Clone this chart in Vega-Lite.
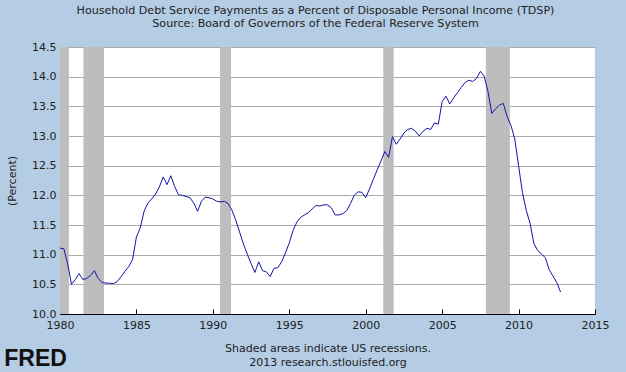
{
  "$schema": "https://vega.github.io/schema/vega-lite/v6.json",
  "width": 535,
  "height": 267,
  "autosize": "none",
  "padding": {"left": 60, "top": 47, "right": 31, "bottom": 58},
  "background": "#b4cce4",
  "title": {
    "text": "Household Debt Service Payments as a Percent of Disposable Personal Income (TDSP)",
    "subtitle": "Source: Board of Governors of the Federal Reserve System",
    "anchor": "middle",
    "frame": "group",
    "dx": -12,
    "font": "DejaVu Sans",
    "subtitleFont": "DejaVu Sans",
    "fontSize": 11.1,
    "subtitleFontSize": 11.1,
    "fontWeight": "normal",
    "color": "#222222",
    "subtitleColor": "#222222",
    "offset": 12,
    "subtitlePadding": 2
  },
  "config": {
    "view": {"fill": "white", "stroke": null},
    "font": "DejaVu Sans"
  },
  "layer": [
    {
      "data": {"values": [
        {"s": 1980.0, "e": 1980.58},
        {"s": 1981.53, "e": 1982.88},
        {"s": 1990.47, "e": 1991.19},
        {"s": 2001.15, "e": 2001.83},
        {"s": 2007.86, "e": 2009.43}
      ]},
      "mark": {"type": "rect", "color": "#bdbdbd"},
      "encoding": {
        "x": {"field": "s", "type": "quantitative", "scale": {"domain": [1980, 2015], "nice": false, "zero": false}},
        "x2": {"field": "e"}
      }
    },
    {
      "data": {"values": [
        {"t": 1980.00, "v": 11.11}, {"t": 1980.25, "v": 11.10}, {"t": 1980.50, "v": 10.85}, {"t": 1980.75, "v": 10.50},
        {"t": 1981.00, "v": 10.58}, {"t": 1981.25, "v": 10.68}, {"t": 1981.50, "v": 10.58}, {"t": 1981.75, "v": 10.60},
        {"t": 1982.00, "v": 10.65}, {"t": 1982.25, "v": 10.73}, {"t": 1982.50, "v": 10.60}, {"t": 1982.75, "v": 10.53},
        {"t": 1983.00, "v": 10.52}, {"t": 1983.25, "v": 10.52}, {"t": 1983.50, "v": 10.51}, {"t": 1983.75, "v": 10.55},
        {"t": 1984.00, "v": 10.63}, {"t": 1984.25, "v": 10.72}, {"t": 1984.50, "v": 10.80}, {"t": 1984.75, "v": 10.92},
        {"t": 1985.00, "v": 11.30}, {"t": 1985.25, "v": 11.45}, {"t": 1985.50, "v": 11.73}, {"t": 1985.75, "v": 11.87},
        {"t": 1986.00, "v": 11.94}, {"t": 1986.25, "v": 12.02}, {"t": 1986.50, "v": 12.14}, {"t": 1986.75, "v": 12.31},
        {"t": 1987.00, "v": 12.18}, {"t": 1987.25, "v": 12.33}, {"t": 1987.50, "v": 12.15}, {"t": 1987.75, "v": 12.01},
        {"t": 1988.00, "v": 12.00}, {"t": 1988.25, "v": 11.98}, {"t": 1988.50, "v": 11.96}, {"t": 1988.75, "v": 11.87},
        {"t": 1989.00, "v": 11.73}, {"t": 1989.25, "v": 11.90}, {"t": 1989.50, "v": 11.97}, {"t": 1989.75, "v": 11.96},
        {"t": 1990.00, "v": 11.94}, {"t": 1990.25, "v": 11.90}, {"t": 1990.50, "v": 11.89}, {"t": 1990.75, "v": 11.90},
        {"t": 1991.00, "v": 11.86}, {"t": 1991.25, "v": 11.75}, {"t": 1991.50, "v": 11.58}, {"t": 1991.75, "v": 11.38},
        {"t": 1992.00, "v": 11.18}, {"t": 1992.25, "v": 11.01}, {"t": 1992.50, "v": 10.85}, {"t": 1992.75, "v": 10.70},
        {"t": 1993.00, "v": 10.88}, {"t": 1993.25, "v": 10.73}, {"t": 1993.50, "v": 10.71}, {"t": 1993.75, "v": 10.63},
        {"t": 1994.00, "v": 10.77}, {"t": 1994.25, "v": 10.78}, {"t": 1994.50, "v": 10.88}, {"t": 1994.75, "v": 11.03},
        {"t": 1995.00, "v": 11.20}, {"t": 1995.25, "v": 11.41}, {"t": 1995.50, "v": 11.55}, {"t": 1995.75, "v": 11.63},
        {"t": 1996.00, "v": 11.67}, {"t": 1996.25, "v": 11.71}, {"t": 1996.50, "v": 11.77}, {"t": 1996.75, "v": 11.83},
        {"t": 1997.00, "v": 11.82}, {"t": 1997.25, "v": 11.84}, {"t": 1997.50, "v": 11.84}, {"t": 1997.75, "v": 11.79},
        {"t": 1998.00, "v": 11.67}, {"t": 1998.25, "v": 11.67}, {"t": 1998.50, "v": 11.69}, {"t": 1998.75, "v": 11.74},
        {"t": 1999.00, "v": 11.86}, {"t": 1999.25, "v": 12.00}, {"t": 1999.50, "v": 12.06}, {"t": 1999.75, "v": 12.05},
        {"t": 2000.00, "v": 11.96}, {"t": 2000.25, "v": 12.11}, {"t": 2000.50, "v": 12.27}, {"t": 2000.75, "v": 12.43},
        {"t": 2001.00, "v": 12.58}, {"t": 2001.25, "v": 12.74}, {"t": 2001.50, "v": 12.64}, {"t": 2001.75, "v": 12.99},
        {"t": 2002.00, "v": 12.86}, {"t": 2002.25, "v": 12.95}, {"t": 2002.50, "v": 13.05}, {"t": 2002.75, "v": 13.11},
        {"t": 2003.00, "v": 13.13}, {"t": 2003.25, "v": 13.08}, {"t": 2003.50, "v": 13.00}, {"t": 2003.75, "v": 13.08},
        {"t": 2004.00, "v": 13.13}, {"t": 2004.25, "v": 13.11}, {"t": 2004.50, "v": 13.22}, {"t": 2004.75, "v": 13.20},
        {"t": 2005.00, "v": 13.58}, {"t": 2005.25, "v": 13.67}, {"t": 2005.50, "v": 13.54}, {"t": 2005.75, "v": 13.64},
        {"t": 2006.00, "v": 13.73}, {"t": 2006.25, "v": 13.82}, {"t": 2006.50, "v": 13.90}, {"t": 2006.75, "v": 13.94},
        {"t": 2007.00, "v": 13.92}, {"t": 2007.25, "v": 13.97}, {"t": 2007.50, "v": 14.09}, {"t": 2007.75, "v": 14.01},
        {"t": 2008.00, "v": 13.75}, {"t": 2008.25, "v": 13.38}, {"t": 2008.50, "v": 13.46}, {"t": 2008.75, "v": 13.52},
        {"t": 2009.00, "v": 13.55}, {"t": 2009.25, "v": 13.33}, {"t": 2009.50, "v": 13.18}, {"t": 2009.75, "v": 12.95},
        {"t": 2010.00, "v": 12.50}, {"t": 2010.25, "v": 12.05}, {"t": 2010.50, "v": 11.75}, {"t": 2010.75, "v": 11.53},
        {"t": 2011.00, "v": 11.19}, {"t": 2011.25, "v": 11.07}, {"t": 2011.50, "v": 11.01}, {"t": 2011.75, "v": 10.95},
        {"t": 2012.00, "v": 10.75}, {"t": 2012.25, "v": 10.64}, {"t": 2012.50, "v": 10.53}, {"t": 2012.75, "v": 10.37}
      ]},
      "mark": {"type": "line", "color": "#1414a8", "strokeWidth": 1},
      "encoding": {
        "x": {
          "field": "t", "type": "quantitative",
          "scale": {"domain": [1980, 2015], "nice": false, "zero": false},
          "axis": {
            "title": ["Shaded areas indicate US recessions.", "2013 research.stlouisfed.org"],
            "values": [1980, 1985, 1990, 1995, 2000, 2005, 2010, 2015],
            "format": "d",
            "grid": false,
            "domainColor": "#000000",
            "tickColor": "#000000",
            "tickSize": -5,
            "labelPadding": 10,
            "labelFontSize": 11,
            "labelColor": "#222222",
            "labelFlush": false,
            "labelOverlap": false,
            "titleFontSize": 11,
            "titleFontWeight": "normal",
            "titleColor": "#222222",
            "titlePadding": 12,
            "titleLineHeight": 14
          }
        },
        "y": {
          "field": "v", "type": "quantitative",
          "scale": {"domain": [10, 14.5], "nice": false, "zero": false},
          "axis": {
            "title": "(Percent)",
            "values": [10, 10.5, 11, 11.5, 12, 12.5, 13, 13.5, 14, 14.5],
            "format": ".1f",
            "grid": true,
            "gridColor": "#aaaaaa",
            "gridWidth": 1,
            "domainColor": "#000000",
            "tickColor": "#000000",
            "tickSize": -5,
            "labelPadding": 9,
            "labelFontSize": 11,
            "labelColor": "#222222",
            "labelFlush": false,
            "labelOverlap": false,
            "titleFontSize": 11,
            "titleFontWeight": "normal",
            "titleColor": "#222222",
            "titlePadding": 14
          }
        }
      }
    },
    {
      "data": {"values": [{}]},
      "mark": {"type": "text", "text": "FRED", "font": "Liberation Sans", "fontWeight": "bold", "fontSize": 23, "color": "#111111", "baseline": "middle", "align": "center"},
      "encoding": {
        "x": {
          "datum": 1978.4, "type": "quantitative",
          "scale": {"domain": [1980, 2015], "nice": false, "zero": false},
          "axis": {
            "title": ["Shaded areas indicate US recessions.", "2013 research.stlouisfed.org"],
            "values": [1980, 1985, 1990, 1995, 2000, 2005, 2010, 2015],
            "format": "d",
            "grid": false,
            "domainColor": "#000000",
            "tickColor": "#000000",
            "tickSize": -5,
            "labelPadding": 10,
            "labelFontSize": 11,
            "labelColor": "#222222",
            "labelFlush": false,
            "labelOverlap": false,
            "titleFontSize": 11,
            "titleFontWeight": "normal",
            "titleColor": "#222222",
            "titlePadding": 12,
            "titleLineHeight": 14
          }
        },
        "y": {
          "datum": 9.24, "type": "quantitative",
          "scale": {"domain": [10, 14.5], "nice": false, "zero": false},
          "axis": {
            "title": "(Percent)",
            "values": [10, 10.5, 11, 11.5, 12, 12.5, 13, 13.5, 14, 14.5],
            "format": ".1f",
            "grid": true,
            "gridColor": "#aaaaaa",
            "gridWidth": 1,
            "domainColor": "#000000",
            "tickColor": "#000000",
            "tickSize": -5,
            "labelPadding": 9,
            "labelFontSize": 11,
            "labelColor": "#222222",
            "labelFlush": false,
            "labelOverlap": false,
            "titleFontSize": 11,
            "titleFontWeight": "normal",
            "titleColor": "#222222",
            "titlePadding": 14
          }
        }
      }
    }
  ]
}
